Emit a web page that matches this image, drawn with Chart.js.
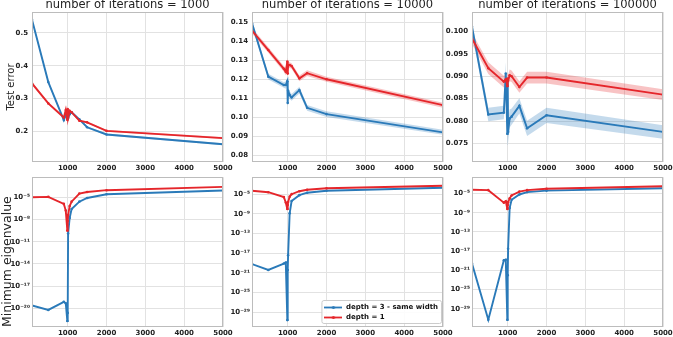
<!DOCTYPE html>
<html><head><meta charset="utf-8">
<script src="https://cdn.jsdelivr.net/npm/chart.js@4.4.1/dist/chart.umd.min.js"></script>
<style>
html,body{margin:0;padding:0;background:#fff;overflow:hidden;width:673px;height:337px;position:relative}
canvas{position:absolute}
</style></head><body>
<script>
// ---------------- data ----------------
const widths = [80, 500, 900, 950, 990, 1000, 1010, 1050, 1100, 1300, 1500, 2000, 5000];
const panelTitles = ['number of iterations = 1000', 'number of iterations = 10000', 'number of iterations = 100000'];
const seriesLabels = ['depth = 3 - same width', 'depth = 1'];
const xTicks = [1000, 2000, 3000, 4000, 5000];
const xTickLabels = ['1000', '2000', '3000', '4000', '5000'];

// test error, depth 3 (blue) and depth 1 (red), with band half-widths
const testErrDeep1000 = [0.54, 0.35, 0.234, 0.25, 0.238, 0.255, 0.24, 0.252, 0.258, 0.236, 0.212, 0.19, 0.16];
const testErrDeep1000Band = [0.005, 0.004, 0.004, 0.004, 0.004, 0.005, 0.004, 0.004, 0.004, 0.003, 0.003, 0.003, 0.003];
const testErrShallow1000 = [0.346, 0.285, 0.242, 0.265, 0.235, 0.268, 0.24, 0.262, 0.258, 0.232, 0.227, 0.201, 0.179];
const testErrShallow1000Band = [0.004, 0.004, 0.004, 0.004, 0.004, 0.004, 0.004, 0.004, 0.004, 0.003, 0.003, 0.003, 0.003];

const testErrDeep10000 = [0.1495, 0.1214, 0.117, 0.117, 0.119, 0.1075, 0.114, 0.1117, 0.1105, 0.1143, 0.105, 0.1017, 0.0921];
const testErrDeep10000Band = [0.0015, 0.0015, 0.0015, 0.002, 0.002, 0.003, 0.002, 0.002, 0.0018, 0.0018, 0.0015, 0.0015, 0.0013];
const testErrShallow10000 = [0.1456, 0.1354, 0.1255, 0.124, 0.1293, 0.123, 0.1275, 0.1275, 0.127, 0.1205, 0.1232, 0.12, 0.1064];
const testErrShallow10000Band = [0.0015, 0.0015, 0.0015, 0.002, 0.002, 0.002, 0.002, 0.0015, 0.0015, 0.0015, 0.0015, 0.0013, 0.0013];

const testErrDeep100000 = [0.101, 0.0815, 0.0819, 0.0906, 0.0772, 0.089, 0.0776, 0.0806, 0.081, 0.0834, 0.0784, 0.0813, 0.0776];
const testErrDeep100000Band = [0.0012, 0.0015, 0.0015, 0.0025, 0.0025, 0.0025, 0.0025, 0.002, 0.0018, 0.0017, 0.0017, 0.0017, 0.0015];
const testErrShallow100000 = [0.0984, 0.0918, 0.0888, 0.0893, 0.0878, 0.0895, 0.089, 0.0902, 0.09, 0.0876, 0.0897, 0.0897, 0.0859];
const testErrShallow100000Band = [0.0012, 0.0013, 0.0013, 0.0015, 0.0015, 0.0015, 0.0013, 0.0013, 0.0013, 0.0013, 0.0013, 0.0013, 0.0012];

// minimum eigenvalue, stored as log10 of the value
const eigDeep1000Log10 = [-19.6, -20.2, -19.1, -19.3, -21.7, -20.6, -9.9, -7.8, -6.6, -5.6, -5.1, -4.6, -4.1];
const eigShallow1000Log10 = [-5.0, -4.95, -5.9, -6.8, -9.5, -8.2, -7.4, -6.2, -5.6, -4.5, -4.3, -4.05, -3.6];
const eigDeep10000Log10 = [-19.2, -20.4, -19.1, -18.9, -30.6, -20.4, -17.4, -8.9, -6.4, -5.2, -4.7, -4.3, -3.7];
const eigShallow10000Log10 = [-4.3, -4.6, -5.6, -6.7, -8.0, -7.2, -6.6, -5.5, -5.0, -4.4, -4.1, -3.8, -3.3];
const eigDeep100000Log10 = [-19.6, -31.3, -18.9, -18.8, -31.3, -22.0, -16.5, -8.0, -6.3, -5.2, -4.7, -4.4, -3.9];
const eigShallow100000Log10 = [-4.2, -4.3, -6.9, -6.6, -8.2, -7.4, -6.8, -6.0, -5.4, -4.6, -4.3, -4.0, -3.5];

// y ticks
const errTicks1000 = [0.2, 0.3, 0.4, 0.5];
const errTickLabels1000 = ['0.2', '0.3', '0.4', '0.5'];
const errTicks10000 = [0.08, 0.09, 0.10, 0.11, 0.12, 0.13, 0.14, 0.15];
const errTickLabels10000 = ['0.08', '0.09', '0.10', '0.11', '0.12', '0.13', '0.14', '0.15'];
const errTicks100000 = [0.075, 0.080, 0.085, 0.090, 0.095, 0.100];
const errTickLabels100000 = ['0.075', '0.080', '0.085', '0.090', '0.095', '0.100'];
const eigTicks1000 = [1e-20, 1e-17, 1e-14, 1e-11, 1e-8, 1e-5];
const eigTickLabels1000 = ['10\u207B\u00B2\u2070', '10\u207B\u00B9\u2077', '10\u207B\u00B9\u2074', '10\u207B\u00B9\u00B9', '10\u207B\u2078', '10\u207B\u2075'];
const eigTicks10000 = [1e-29, 1e-25, 1e-21, 1e-17, 1e-13, 1e-9, 1e-5];
const eigTickLabels10000 = ['10\u207B\u00B2\u2079', '10\u207B\u00B2\u2075', '10\u207B\u00B2\u00B9', '10\u207B\u00B9\u2077', '10\u207B\u00B9\u00B3', '10\u207B\u2079', '10\u207B\u2075'];
const eigTicks100000 = [1e-29, 1e-25, 1e-21, 1e-17, 1e-13, 1e-9, 1e-5];
const eigTickLabels100000 = eigTickLabels10000;

// ---------------- style / layout ----------------
const BLUE = '#2a7ab9', RED = '#e5262b';
const BLUE_BAND = 'rgba(42,122,185,0.28)', RED_BAND = 'rgba(229,38,43,0.28)';
Chart.defaults.animation = false;
Chart.defaults.font.family = '"DejaVu Sans", sans-serif';
Chart.defaults.font.size = 7;
Chart.defaults.font.weight = 'bold';
Chart.defaults.color = '#222';

function legendIcon(color) {
  const c = document.createElement('canvas');
  c.width = 18; c.height = 5;
  const g = c.getContext('2d');
  g.strokeStyle = color; g.lineWidth = 1.8;
  g.beginPath(); g.moveTo(0, 2.5); g.lineTo(18, 2.5); g.stroke();
  g.fillStyle = color; g.beginPath(); g.arc(9, 2.5, 1.6, 0, Math.PI * 2); g.fill();
  return c;
}
const legendIcons = [legendIcon(BLUE), legendIcon(RED)];

const framePlugin = {
  id: 'frameBox',
  afterDatasetsDraw(chart) {
    const {ctx, chartArea: a} = chart;
    ctx.save();
    ctx.strokeStyle = '#bcbcbc'; ctx.lineWidth = 1;
    ctx.strokeRect(Math.round(a.left) + 0.5, Math.round(a.top) + 0.5, Math.round(a.right - a.left) - 1, Math.round(a.bottom - a.top) - 1);
    ctx.restore();
  }
};

const legendPlugin = {
  id: 'legendInside',
  afterLayout(chart) {
    const lg = chart.legend;
    if (!lg || !lg.options.display) return;
    const a = chart.chartArea, ctx = chart.ctx;
    ctx.save(); ctx.font = 'bold 7px "DejaVu Sans"';
    const tw = Math.max(...seriesLabels.map(t => ctx.measureText(t).width));
    ctx.restore();
    const w = 3 + 18 + 3.5 + tw + 3, h = 23;
    lg.left = a.right - 2 - w; lg.width = w; lg.right = lg.left + w;
    lg.top = a.bottom - 4 - h + 1; lg.height = h + 2; lg.bottom = lg.top + h + 2;
    lg._frame = {x: lg.left, y: lg.top - 1, w: w, h: h};
    if (!lg._wrapped) {
      const orig = lg.draw.bind(lg);
      lg.draw = function () {
        const f = this._frame, c = this.ctx;
        c.save();
        c.fillStyle = 'rgba(255,255,255,0.9)'; c.strokeStyle = '#cccccc'; c.lineWidth = 1;
        c.beginPath();
        if (c.roundRect) c.roundRect(f.x + 0.5, f.y + 0.5, f.w, f.h, 2); else c.rect(f.x + 0.5, f.y + 0.5, f.w, f.h);
        c.fill(); c.stroke();
        c.restore();
        orig();
      };
      lg._wrapped = true;
    }
  }
};

const COLS_L = [32, 252, 472];
const PLOT_W = 191, PLOT_H = 150;
const AXIS_W = 32, PAD_R = 12, X_AXIS_H = 13;

function pts(ys) { return widths.map((x, i) => ({x: x, y: ys[i]})); }
function bandPts(ys, err, s) { return widths.map((x, i) => ({x: x, y: ys[i] + s * err[i]})); }
function pow10(arr) { return arr.map(e => Math.pow(10, e)); }

function makeCanvas(left, top, w, h) {
  const c = document.createElement('canvas');
  c.width = w; c.height = h;
  c.style.left = left + 'px'; c.style.top = top + 'px';
  c.style.width = w + 'px'; c.style.height = h + 'px';
  document.body.appendChild(c);
  return c;
}

function lineDs(label, ys, color) {
  return {label: label, data: pts(ys), borderColor: color, backgroundColor: color, borderWidth: 1.9,
    pointRadius: 1.3, pointBorderWidth: 0, pointBackgroundColor: color, tension: 0, fill: false};
}
function bandDs(ys, err, s, color, fillTarget) {
  return {label: '', data: bandPts(ys, err, s), borderWidth: 0, pointRadius: 0, borderColor: 'rgba(0,0,0,0)',
    backgroundColor: color, fill: fillTarget, tension: 0};
}

function xScale() {
  return {
    type: 'linear', min: 80, max: 5000,
    afterBuildTicks: s => { s.ticks = xTicks.map(v => ({value: v})); },
    afterFit: s => { s.height = X_AXIS_H; },
    ticks: {padding: 2, callback: (v, i) => xTickLabels[i], maxRotation: 0, autoSkip: false},
    grid: {color: '#e2e2e2', drawTicks: false},
    border: {display: false}
  };
}

function yScale(type, min, max, ticks, labels, title, pad) {
  return {
    type: type, min: min, max: max,
    afterBuildTicks: s => { s.ticks = ticks.map(v => ({value: v})); },
    afterFit: s => { s.width = AXIS_W; },
    ticks: {padding: pad, callback: (v, i) => labels[i], autoSkip: false},
    grid: {color: '#e2e2e2', drawTicks: false},
    border: {display: false},
    title: title || {display: false}
  };
}

const topPanels = [
  {deep: testErrDeep1000, deepB: testErrDeep1000Band, sh: testErrShallow1000, shB: testErrShallow1000Band,
   min: 0.106, max: 0.564, ticks: errTicks1000, labels: errTickLabels1000},
  {deep: testErrDeep10000, deepB: testErrDeep10000Band, sh: testErrShallow10000, shB: testErrShallow10000Band,
   min: 0.0765, max: 0.1554, ticks: errTicks10000, labels: errTickLabels10000},
  {deep: testErrDeep100000, deepB: testErrDeep100000Band, sh: testErrShallow100000, shB: testErrShallow100000Band,
   min: 0.0709, max: 0.1043, ticks: errTicks100000, labels: errTickLabels100000}
];
const bottomPanels = [
  {deep: eigDeep1000Log10, sh: eigShallow1000Log10, min: Math.pow(10, -22.5), max: Math.pow(10, -2.3), ticks: eigTicks1000, labels: eigTickLabels1000},
  {deep: eigDeep10000Log10, sh: eigShallow10000Log10, min: Math.pow(10, -32), max: Math.pow(10, -1.55), ticks: eigTicks10000, labels: eigTickLabels10000},
  {deep: eigDeep100000Log10, sh: eigShallow100000Log10, min: Math.pow(10, -32.8), max: Math.pow(10, -1.6), ticks: eigTicks100000, labels: eigTickLabels100000}
];

// top row
topPanels.forEach((p, k) => {
  const TITLE_H = 15;
  const cv = makeCanvas(COLS_L[k] - AXIS_W, -3, AXIS_W + PLOT_W + PAD_R, TITLE_H + PLOT_H + X_AXIS_H);
  new Chart(cv, {
    type: 'line',
    data: {datasets: [
      lineDs(seriesLabels[1], p.sh, RED),
      lineDs(seriesLabels[0], p.deep, BLUE),
      bandDs(p.deep, p.deepB, 1, BLUE_BAND, false),
      bandDs(p.deep, p.deepB, -1, BLUE_BAND, 2),
      bandDs(p.sh, p.shB, 1, RED_BAND, false),
      bandDs(p.sh, p.shB, -1, RED_BAND, 4)
    ]},
    options: {
      responsive: false, devicePixelRatio: 1, animation: false,
      layout: {padding: {left: 0, right: PAD_R, top: 0, bottom: 0}},
      plugins: {
        legend: {display: false}, tooltip: {enabled: false},
        title: {display: true, text: panelTitles[k], fullSize: false, color: '#222',
          font: {size: 11.5, weight: 'normal', lineHeight: 1.2}, padding: {top: 1, bottom: 0.2}}
      },
      scales: {
        x: xScale(),
        y: yScale('linear', p.min, p.max, p.ticks, p.labels,
          k === 0 ? {display: true, text: 'Test error', color: '#222', font: {size: 10, weight: 'normal', lineHeight: 1.2}, padding: {top: 5, bottom: 0}} : null, 4)
      }
    },
    plugins: [framePlugin]
  });
});

// bottom row
bottomPanels.forEach((p, k) => {
  const PAD_T = 6;
  const cv = makeCanvas(COLS_L[k] - AXIS_W, 177 - PAD_T, AXIS_W + PLOT_W + PAD_R, PAD_T + PLOT_H + X_AXIS_H);
  new Chart(cv, {
    type: 'line',
    data: {datasets: [
      lineDs(seriesLabels[1], pow10(p.sh), RED),
      lineDs(seriesLabels[0], pow10(p.deep), BLUE)
    ]},
    options: {
      responsive: false, devicePixelRatio: 1, animation: false,
      layout: {padding: {left: 0, right: PAD_R, top: PAD_T, bottom: 0}},
      plugins: {
        tooltip: {enabled: false},
        legend: k === 1 ? {
          display: true, position: 'chartArea', align: 'start',
          labels: {
            usePointStyle: true, pointStyleWidth: 18, padding: 3, color: '#111',
            font: {size: 7, weight: 'bold'},
            generateLabels: () => seriesLabels.map((t, i) => ({
              text: t, pointStyle: legendIcons[i], datasetIndex: i === 0 ? 1 : 0,
              hidden: false, lineWidth: 0, fontColor: '#111'
            }))
          }
        } : {display: false}
      },
      scales: {
        x: xScale(),
        y: yScale('logarithmic', p.min, p.max, p.ticks, p.labels,
          k === 0 ? {display: true, text: 'Minimum eigenvalue', align: 'start', color: '#222', font: {size: 12.5, weight: 'normal', lineHeight: 1.2}, padding: {top: 0, bottom: 0}} : null, 2)
      }
    },
    plugins: [framePlugin, legendPlugin]
  });
});
</script>
</body></html>
